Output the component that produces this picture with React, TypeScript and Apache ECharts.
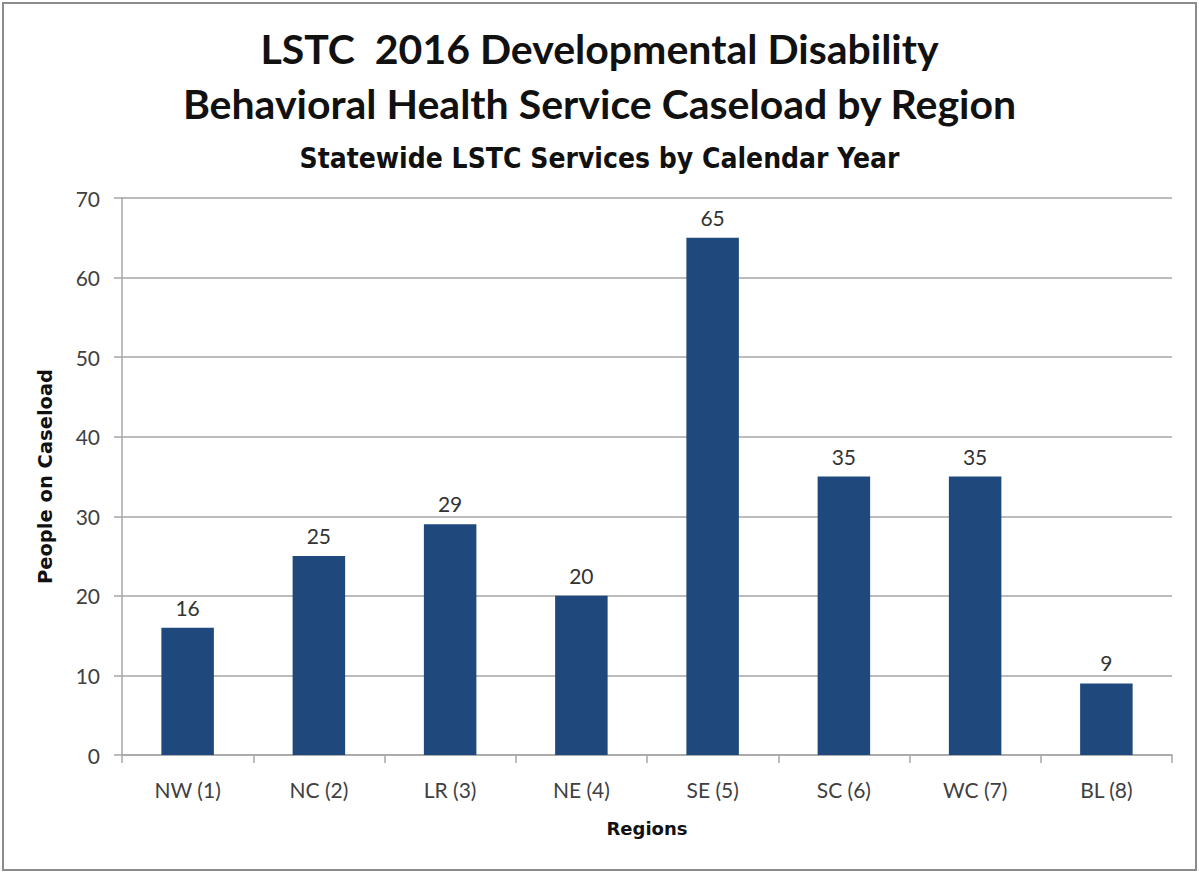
import React, { useEffect, useRef } from "react";
import * as echarts from "echarts";

const categories = ["NW (1)", "NC (2)", "LR (3)", "NE (4)", "SE (5)", "SC (6)", "WC (7)", "BL (8)"];
const caseload = [16, 25, 29, 20, 65, 35, 35, 9];
const titleLines = ["LSTC  2016 Developmental Disability", "Behavioral Health Service Caseload by Region"];
const subtitle = "Statewide LSTC Services by Calendar Year";

export default function App() {
  const ref = useRef<HTMLDivElement>(null);
  useEffect(() => {
    document.body.style.margin = "0";
    const chart = echarts.init(ref.current!, null, { renderer: "svg" });
    const font = "Lato, 'Open Sans', sans-serif";
    const boldFont = "'DejaVu Sans', Verdana, sans-serif";
    const condFont = "'DejaVu Sans Condensed', 'DejaVu Sans', sans-serif";
    chart.setOption({
      animation: false,
      backgroundColor: "#ffffff",
      textStyle: { fontFamily: font },
      title: [
        {
          text: titleLines.join("\n"),
          left: "center",
          top: 16,
          textStyle: { fontSize: 41, fontWeight: "bold", color: "#111", lineHeight: 55, fontFamily: font },
        },
        {
          text: subtitle,
          left: "center",
          top: 139,
          textStyle: { fontSize: 28, fontWeight: "bold", color: "#111", fontFamily: condFont },
        },
      ],
      graphic: [
        {
          type: "rect",
          shape: { x: 3, y: 3, width: 1193, height: 867 },
          style: { fill: "none", stroke: "#8c8c8c", lineWidth: 2 },
          silent: true,
        },
      ],
      grid: { left: 122, right: 27, top: 198, bottom: 118 },
      xAxis: {
        type: "category",
        data: categories,
        name: "Regions",
        nameLocation: "middle",
        nameGap: 64,
        nameTextStyle: { fontSize: 18, fontWeight: "bold", color: "#111", fontFamily: boldFont },
        axisLine: { lineStyle: { color: "#a6a6a6", width: 1.5 } },
        axisTick: { show: true, length: 8, alignWithLabel: false, lineStyle: { color: "#a6a6a6", width: 1.5 } },
        axisLabel: { fontSize: 21, color: "#404040", margin: 24 },
      },
      yAxis: {
        type: "value",
        min: 0,
        max: 70,
        interval: 10,
        name: "People on Caseload",
        nameLocation: "middle",
        nameGap: 67,
        nameRotate: 90,
        nameTextStyle: { fontSize: 19.5, fontWeight: "bold", color: "#111", fontFamily: boldFont },
        axisLine: { show: true, lineStyle: { color: "#a6a6a6", width: 1.5 } },
        axisTick: { show: true, length: 8, lineStyle: { color: "#a6a6a6", width: 1.5 } },
        axisLabel: { fontSize: 21, color: "#404040", margin: 22 },
        splitLine: { lineStyle: { color: "#a6a6a6", width: 1.5 } },
      },
      series: [
        {
          type: "bar",
          data: caseload,
          barWidth: "40%",
          itemStyle: { color: "#1f497d" },
          label: { show: true, position: "top", distance: 10, fontSize: 21, color: "#333" },
        },
      ],
    });
    return () => chart.dispose();
  }, []);
  return <div ref={ref} style={{ width: 1199, height: 873 }} />;
}
